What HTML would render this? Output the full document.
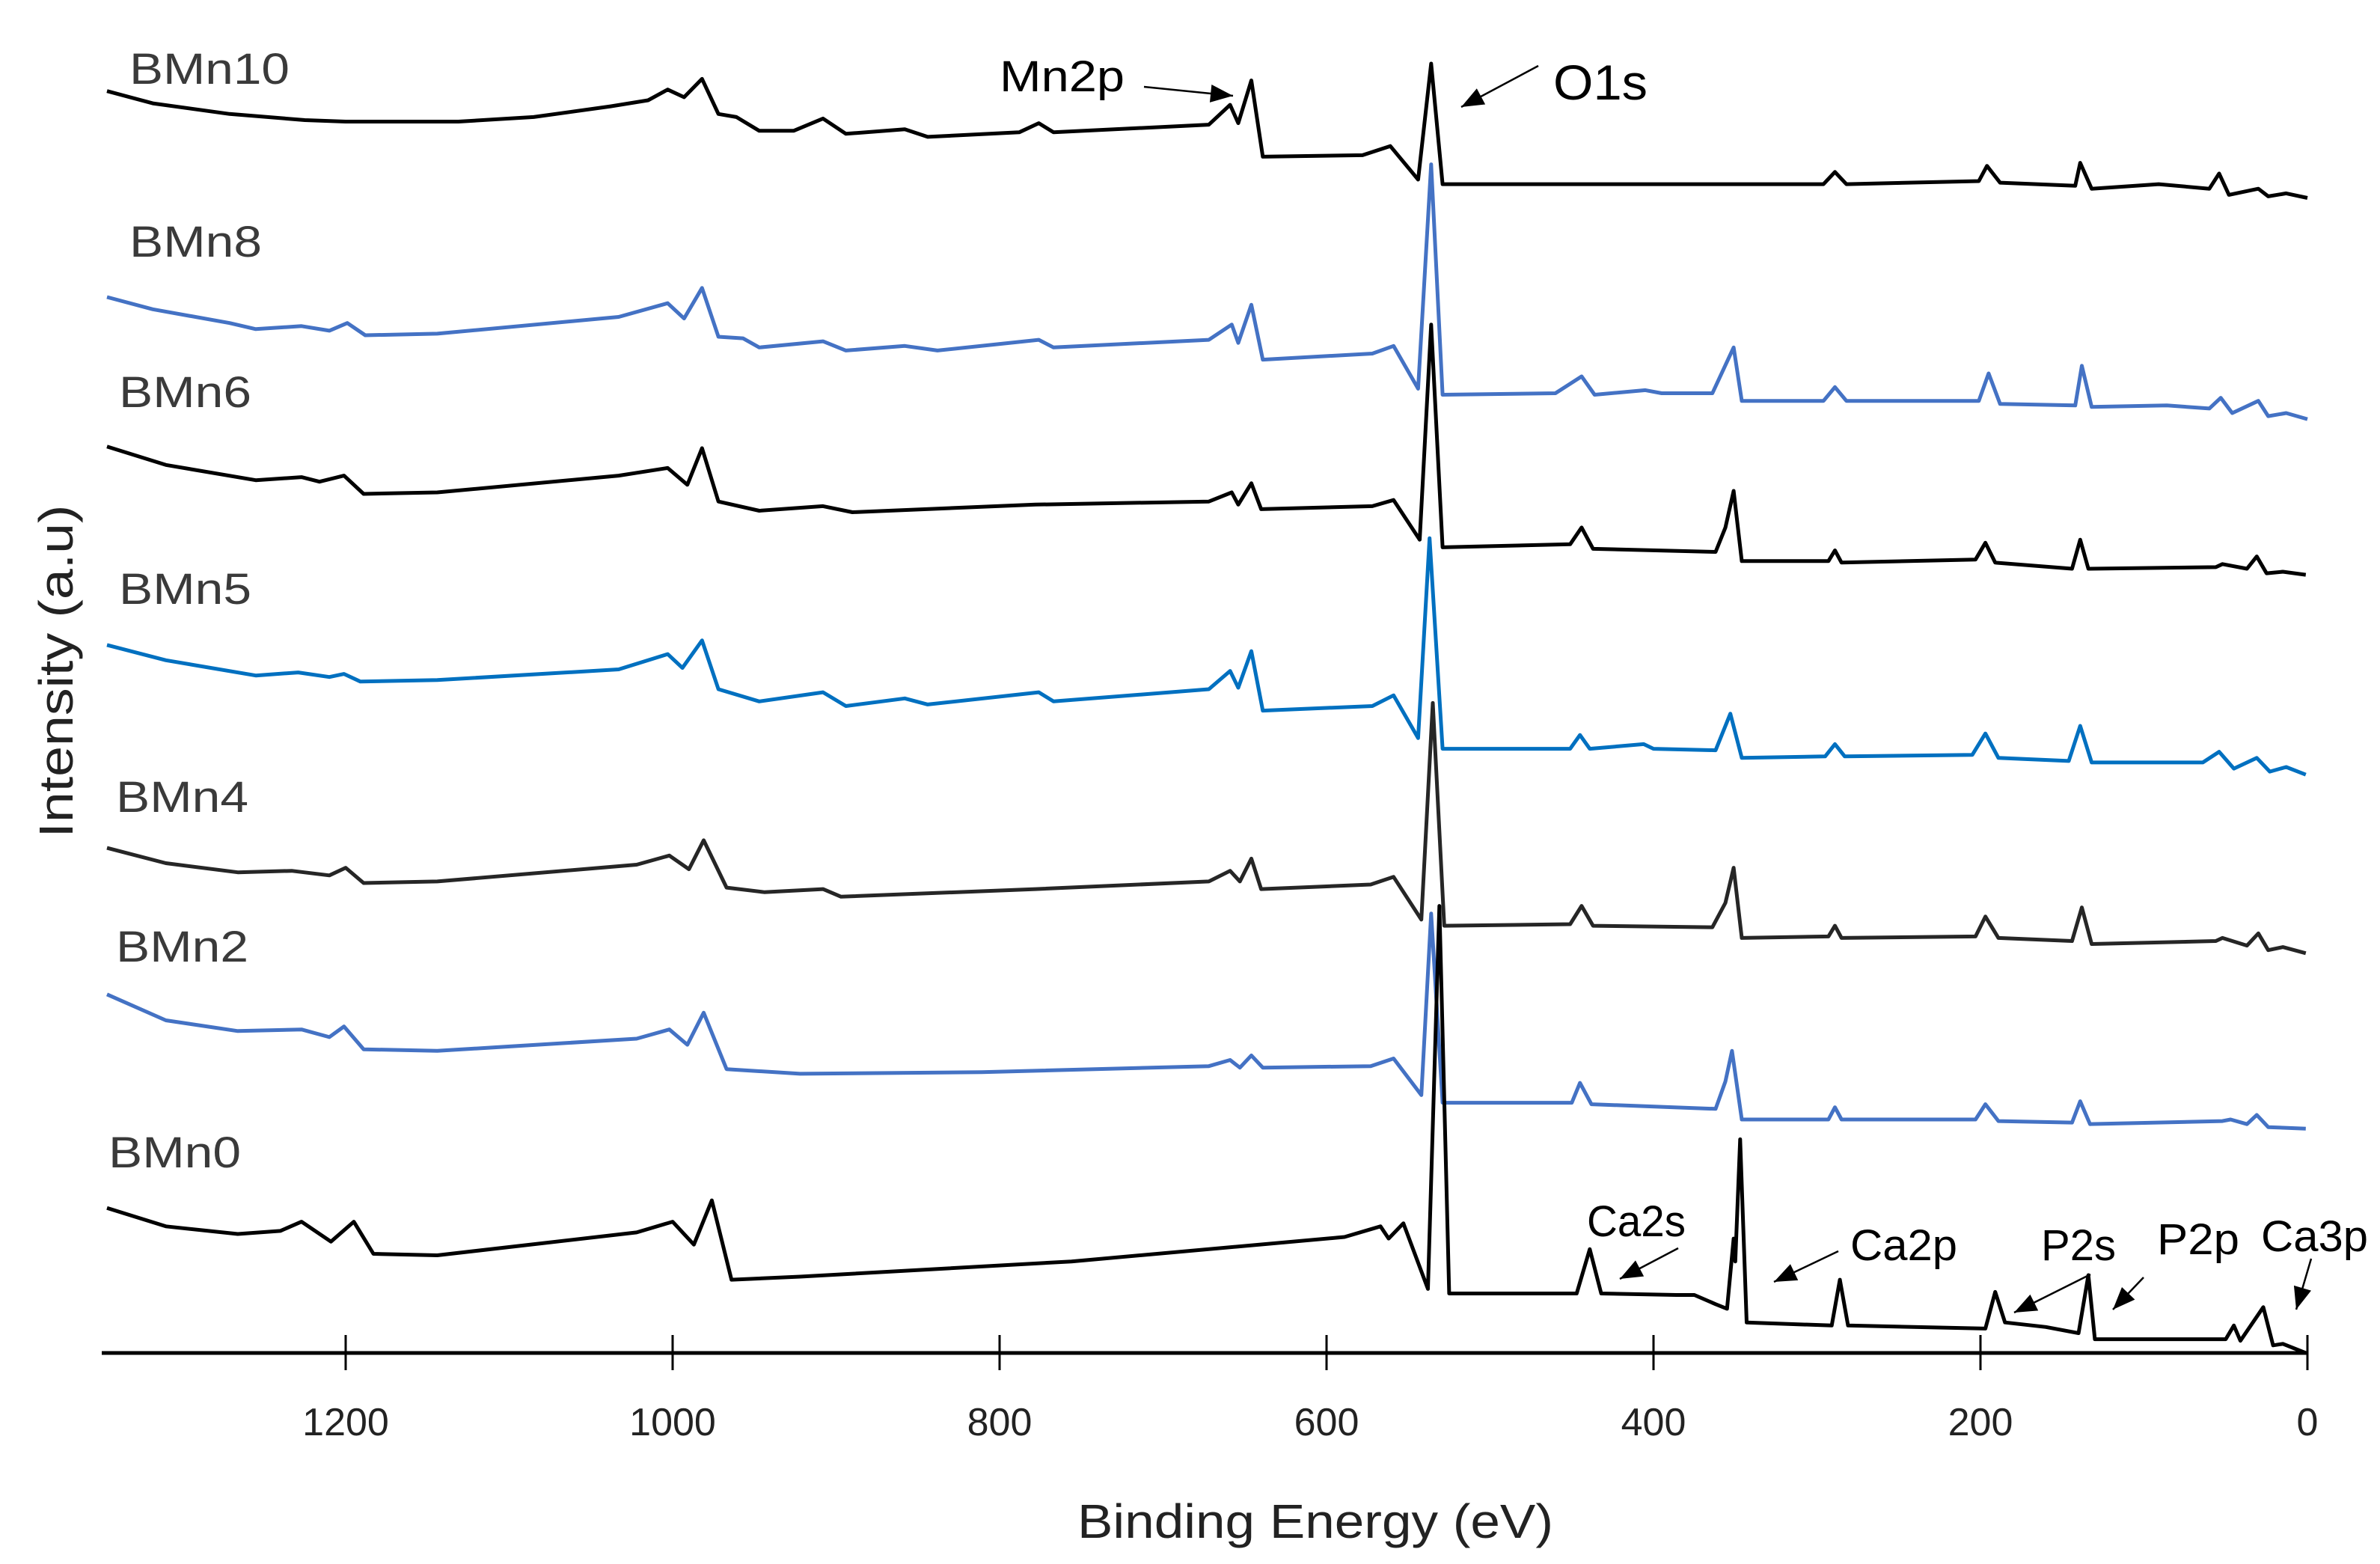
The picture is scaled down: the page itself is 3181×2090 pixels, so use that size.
<!DOCTYPE html>
<html><head><meta charset="utf-8"><style>
html,body{margin:0;padding:0;background:#fff;}
svg{display:block;font-family:"Liberation Sans",sans-serif;}
</style></head><body>
<svg id="chart" width="3181" height="2090" viewBox="0 0 3181 2090" xmlns="http://www.w3.org/2000/svg">
<g id="series"></g>
<g id="axis"></g>
<g font-size="58" fill="#3a3a3a">
<text x="173" y="112" textLength="214" lengthAdjust="spacingAndGlyphs">BMn10</text>
<text x="173" y="343" textLength="177" lengthAdjust="spacingAndGlyphs">BMn8</text>
<text x="159" y="544" textLength="177" lengthAdjust="spacingAndGlyphs">BMn6</text>
<text x="159" y="807" textLength="177" lengthAdjust="spacingAndGlyphs">BMn5</text>
<text x="155" y="1085" textLength="177" lengthAdjust="spacingAndGlyphs">BMn4</text>
<text x="155" y="1285" textLength="177" lengthAdjust="spacingAndGlyphs">BMn2</text>
<text x="145" y="1560" textLength="177" lengthAdjust="spacingAndGlyphs">BMn0</text>
</g>
<g fill="#000" font-size="58">
<text x="1336" y="122" textLength="167" lengthAdjust="spacingAndGlyphs">Mn2p</text>
<text x="2076" y="133" font-size="66" textLength="126" lengthAdjust="spacingAndGlyphs">O1s</text>
<text x="2121" y="1652" textLength="132" lengthAdjust="spacingAndGlyphs">Ca2s</text>
<text x="2473" y="1684" textLength="143" lengthAdjust="spacingAndGlyphs">Ca2p</text>
<text x="2728" y="1684" textLength="100" lengthAdjust="spacingAndGlyphs">P2s</text>
<text x="2883" y="1676" textLength="110" lengthAdjust="spacingAndGlyphs">P2p</text>
<text x="3022" y="1672" textLength="143" lengthAdjust="spacingAndGlyphs">Ca3p</text>
</g>
<g id="arrows"></g>
<text x="1758" y="2055" font-size="64" text-anchor="middle" textLength="636" lengthAdjust="spacingAndGlyphs" fill="#222">Binding Energy (eV)</text>
<text transform="translate(97,897) rotate(-90)" font-size="64" text-anchor="middle" textLength="445" lengthAdjust="spacingAndGlyphs" fill="#222">Intensity (a.u)</text>
</svg>
<script>
// Data: binding energy (eV) and intensity (a.u., stacked offsets included)
const bmn10E=[1346,1318,1271,1225,1200,1169,1131,1085,1038,1015,1003,993,982,972,961,947,926,908,894,858,844,788,776,767,672,659,654,646,639,578,561,544,536,529,296,289,282,201,196,188,142,139,132,91,60,54,48,30,24,13,0];
const bmn10I=[827,819,812,808,807,807,807,810,817,821,828,823,835,812,810,801,801,809,799,802,797,800,806,800,805,818,806,834,784,785,791,769,845,766,766,774,766,768,778,767,765,780,763,766,763,773,759,763,758,760,757];
const bmn8E=[1346,1318,1271,1255,1227,1210,1199,1188,1144,1033,1003,993,982,972,957,947,908,894,858,838,776,767,672,658,654,646,639,572,559,544,536,529,460,444,436,405,395,364,351,346,296,289,282,201,195,188,142,138,132,86,60,53,46,30,24,13,0];
const bmn8I=[692,684,675,671,673,670,675,667,668,679,688,678,698,666,665,659,663,657,660,657,664,659,664,674,662,687,651,655,660,632,779,628,629,640,628,631,629,629,659,624,624,633,624,624,642,622,621,647,620,621,619,626,616,624,614,616,612];
const bmn6E=[1346,1310,1255,1227,1216,1201,1189,1144,1033,1003,991,982,972,947,908,890,778,672,658,654,646,640,572,559,543,536,529,451,444,437,362,356,351,346,293,289,285,203,197,191,144,139,134,56,52,37,31,25,15,1];
const bmn6I=[594,582,572,574,571,575,563,564,575,580,569,593,558,552,555,551,556,558,564,556,570,553,555,559,533,674,528,530,541,527,525,541,565,519,519,526,518,520,531,518,514,533,514,515,517,514,522,511,512,510];
const bmn5E=[1346,1310,1255,1229,1210,1201,1191,1144,1033,1003,994,982,972,947,908,894,858,844,776,767,672,659,654,646,639,572,559,544,537,529,451,445,439,406,400,362,353,346,295,289,283,205,197,189,146,139,132,64,54,45,31,23,13,1];
const bmn5I=[464,454,444,446,443,445,440,441,448,458,449,467,435,427,433,424,429,425,433,427,435,447,436,460,421,424,431,403,534,396,396,405,396,399,396,395,419,390,391,399,391,392,406,390,388,411,387,387,394,383,390,381,384,379];
const bmn4E=[1346,1310,1266,1233,1210,1200,1189,1144,1022,1002,990,981,967,944,908,897,778,672,659,653,646,640,573,559,542,535,528,451,444,437,364,356,351,346,293,289,285,203,197,189,144,138,132,56,52,37,30,24,15,1];
const bmn4I=[331,321,315,316,313,318,308,309,320,326,317,336,305,302,304,299,304,309,316,309,324,304,307,312,284,426,280,281,293,280,279,295,318,272,273,280,272,273,286,272,270,292,268,270,272,267,275,264,266,262];
const bmn2E=[1346,1310,1266,1227,1210,1201,1189,1144,1022,1002,991,981,967,922,811,672,659,653,646,639,573,559,542,536,529,450,445,438,362,356,352,346,293,289,285,203,197,189,144,139,133,52,47,37,31,24,1];
const bmn2I=[235,218,211,212,207,214,199,198,206,212,202,223,186,183,184,188,192,187,195,187,188,193,169,288,164,164,177,163,160,178,198,153,153,161,153,153,163,152,151,165,150,152,153,150,156,148,147];
const bmn0E=[1346,1310,1266,1240,1227,1209,1195,1183,1144,1022,1000,987,976,964,922,756,589,567,562,553,538,531,525,447,439,432,386,375,362,355,351,350,347,343,291,286,281,197,191,185,160,140,134,130,50,45,41,27,21,15,1];
const bmn0I=[95,83,78,80,86,73,86,65,64,79,86,71,100,48,50,60,76,83,75,85,42,293,39,39,68,39,38,38,32,29,75,60,140,20,18,48,18,16,40,20,17,13,51,9,9,18,8,30,5,6,0];
const tickValues=[0,200,400,600,800,1000,1200];

const svgNS="http://www.w3.org/2000/svg";
function xScale(e){return 3084-2.185*e;}
function yScale(v){return 1808-2.039*v;}

const seriesDefs=[
 ["series-bmn10",bmn10E,bmn10I,"#000000"],
 ["series-bmn8",bmn8E,bmn8I,"#4472C4"],
 ["series-bmn6",bmn6E,bmn6I,"#000000"],
 ["series-bmn5",bmn5E,bmn5I,"#0070C0"],
 ["series-bmn4",bmn4E,bmn4I,"#262626"],
 ["series-bmn2",bmn2E,bmn2I,"#4472C4"],
 ["series-bmn0",bmn0E,bmn0I,"#000000"]
];
const sg=document.getElementById("series");
seriesDefs.forEach(function(s){
  let d="";
  for(let i=0;i<s[1].length;i++){
    d+=(i?"L":"M")+xScale(s[1][i]).toFixed(1)+","+yScale(s[2][i]).toFixed(1);
  }
  const p=document.createElementNS(svgNS,"path");
  p.setAttribute("d",d);
  p.setAttribute("fill","none");
  p.setAttribute("stroke",s[3]);
  p.setAttribute("stroke-width","5");
  p.setAttribute("stroke-linejoin","round");
  
  
  sg.appendChild(p);
});

const ag=document.getElementById("axis");
const axl=document.createElementNS(svgNS,"line");
axl.setAttribute("x1","136");axl.setAttribute("x2",xScale(0));
axl.setAttribute("y1","1808");axl.setAttribute("y2","1808");
axl.setAttribute("stroke","#000");axl.setAttribute("stroke-width","5");


ag.appendChild(axl);
tickValues.forEach(function(t){
  const x=xScale(t);
  const tl=document.createElementNS(svgNS,"line");
  tl.setAttribute("x1",x);tl.setAttribute("x2",x);
  tl.setAttribute("y1","1784");tl.setAttribute("y2","1831");
  tl.setAttribute("stroke","#000");tl.setAttribute("stroke-width","3");
  
  
  ag.appendChild(tl);
  const tx=document.createElementNS(svgNS,"text");
  tx.setAttribute("x",x);tx.setAttribute("y","1918");
  tx.setAttribute("text-anchor","middle");tx.setAttribute("font-size","52");
  tx.setAttribute("fill","#222");
  tx.textContent=String(t);
  
  
  ag.appendChild(tx);
});

const arrowDefs=[[1529,116,1648,128],[2056,88,1953,143],[2243,1668,2165,1709],[2457,1672,2371,1713],[2794,1703,2692,1754],[2865,1707,2824,1750],[3089,1682,3069,1750]];
const arg=document.getElementById("arrows");
arrowDefs.forEach(function(a){
  const l=document.createElementNS(svgNS,"line");
  l.setAttribute("x1",a[0]);l.setAttribute("y1",a[1]);l.setAttribute("x2",a[2]);l.setAttribute("y2",a[3]);
  l.setAttribute("stroke","#000");l.setAttribute("stroke-width","2.5");
  
  
  arg.appendChild(l);
  const ang=Math.atan2(a[3]-a[1],a[2]-a[0]);
  const L=30,W=12;
  const bx=a[2]-L*Math.cos(ang),by=a[3]-L*Math.sin(ang);
  const px=-Math.sin(ang)*W,py=Math.cos(ang)*W;
  const h=document.createElementNS(svgNS,"polygon");
  h.setAttribute("points",a[2]+","+a[3]+" "+(bx+px)+","+(by+py)+" "+(bx-px)+","+(by-py));
  h.setAttribute("fill","#000");
  
  
  arg.appendChild(h);
});
</script>
</body></html>
